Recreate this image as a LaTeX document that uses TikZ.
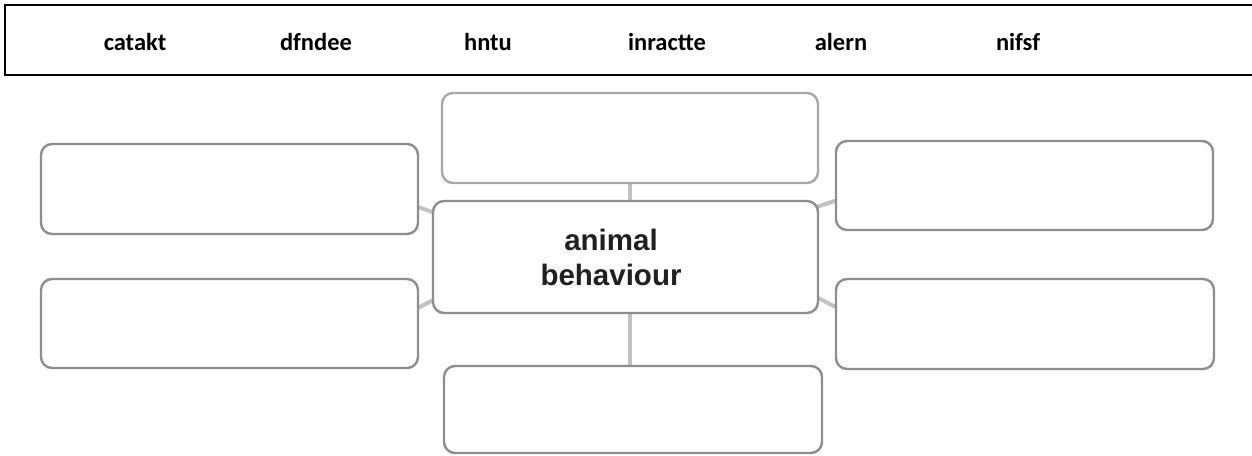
\documentclass[tikz,border=0pt]{standalone}
\usepackage{fontspec}
\setmainfont{Liberation Sans}
\newfontfamily\calfont{Carlito}
\usetikzlibrary{calc,backgrounds}
\definecolor{boxgray}{HTML}{8E8E90}
\definecolor{boxlight}{HTML}{A8A8AA}
\definecolor{linkgray}{HTML}{C2C2C4}
\definecolor{titletext}{HTML}{231F20}
\tikzset{
  blank/.style={draw=boxgray, line width=2.4pt, fill=white, rounded corners=11pt,
    minimum width=377pt, minimum height=90pt, inner sep=0pt},
  word/.style={font=\calfont\bfseries\fontsize{24.5}{28}\selectfont, anchor=base, inner sep=0pt},
  ctext/.style={font=\bfseries\fontsize{29.5}{35}\selectfont, text=titletext, align=center, inner sep=0pt},
  link/.style={draw=linkgray, line width=4pt},
  banner/.style={draw=black, line width=1.5pt}
}
\begin{document}
\begin{tikzpicture}[x=1pt,y=-1pt]
\useasboundingbox (0,0) rectangle (1252,455);
% banner
\coordinate (b1) at (1252,5);
\coordinate (b2) at (5,5);
\coordinate (b3) at (5,75);
\coordinate (b4) at (1252,75);
\draw[banner] (b1) -- (b2) -- (b3) -- (b4);
\node[word] (w1) at (135,50) {catakt};
\node[word] (w2) at (316,50) {dfndee};
\node[word] (w3) at (488,50) {hntu};
\node[word] (w4) at (667,50) {inractte};
\node[word] (w5) at (841,50) {alern};
\node[word] (w6) at (1018,50) {nifsf};
% boxes
\node[blank, draw=boxlight, minimum width=376pt] (top) at (630,138) {};
\node[blank] (lt) at (229.5,189) {};
\node[blank, minimum height=89pt] (lb) at (229.5,323.5) {};
\node[blank, minimum width=385pt, minimum height=112pt] (ctr) at (625.5,257) {};
\node[blank, minimum height=89pt] (rt) at (1024.5,185.5) {};
\node[blank, minimum width=378pt] (rb) at (1025,324) {};
\node[blank, minimum width=378pt, minimum height=87pt] (bot) at (633,409.5) {};
\node[ctext] (title) at (611,257) {animal\\behaviour};
% connectors
\begin{scope}[on background layer]
\draw[link] ($(top.south)+(0,-5)$) -- ($(top.south |- ctr.north)+(0,5)$);
\draw[link] ($(ctr.south -| top.south)+(0,-5)$) -- ($(bot.north -| top.south)+(0,5)$);
\draw[link] ($(lt.north east)!0.68!(lt.south east)+(-5,0)$) -- ($(ctr.north west)!0.12!(ctr.south west)+(5,0)$);
\draw[link] ($(lb.north east)!0.35!(lb.south east)+(-5,0)$) -- ($(ctr.north west)!0.86!(ctr.south west)+(5,0)$);
\draw[link] ($(rt.north west)!0.65!(rt.south west)+(5,0)$) -- ($(ctr.north east)!0.07!(ctr.south east)+(-5,0)$);
\draw[link] ($(rb.north west)!0.34!(rb.south west)+(5,0)$) -- ($(ctr.north east)!0.84!(ctr.south east)+(-5,0)$);
\end{scope}
\end{tikzpicture}
\end{document}
